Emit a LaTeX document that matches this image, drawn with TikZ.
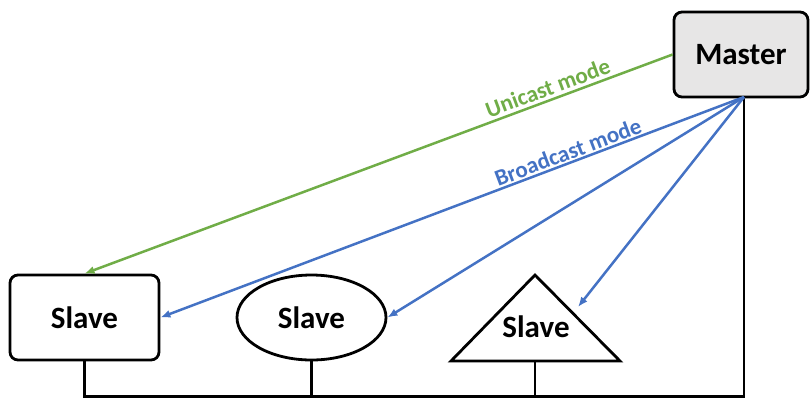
\documentclass[tikz,border=0pt]{standalone}
\usepackage{fontspec}
\setmainfont{Carlito}
\usetikzlibrary{shapes.geometric,arrows.meta,calc}
\definecolor{ugreen}{HTML}{70AD47}
\definecolor{bblue}{HTML}{4472C4}
\definecolor{mgray}{HTML}{E7E6E6}
\begin{document}
\begin{tikzpicture}[x=1pt,y=-1pt,
  boxfont/.style={font=\fontsize{31}{36}\selectfont\bfseries},
  rbox/.style={draw=black,line width=2.8pt,rounded corners=8pt,inner sep=0pt,boxfont},
  ell/.style={draw=black,line width=2.8pt,ellipse,inner sep=0pt,minimum width=149pt,minimum height=85pt,boxfont},
  wire/.style={draw=black,line width=2.8pt},
  uarrow/.style={draw=ugreen,line width=2.5pt,-{Latex[length=10pt,width=8pt]}},
  barrow/.style={draw=bblue,line width=2.5pt,-{Latex[length=10pt,width=8pt]}},
  lbl/.style={font=\fontsize{23}{27}\selectfont\bfseries,sloped,above,inner sep=3pt}]
\useasboundingbox (0,0) rectangle (810,397);
% nodes
\node[rbox,fill=mgray,minimum width=134pt,minimum height=85pt] (master) at (741,54.5) {Master};
\node[rbox,minimum width=149pt,minimum height=85pt] (s1) at (84.5,317.5) {Slave};
\node[ell] (s2) at (311.5,317.5) {Slave};
\draw[wire,line join=miter] (535,275) -- (620,361) -- (451,361) -- cycle;
\node[boxfont,inner sep=0pt] (s3) at (536,327) {Slave};
\coordinate (s3base) at (535,361);
\coordinate (s3e) at (578,307);
\coordinate (mb) at (744,97);
\coordinate (b) at (744,396.5);
% bus
\draw[wire] (mb) -- (b) -- (s1.south |- b) -- (s1.south);
\draw[wire] (s2.south) -- (s2.south |- b);
\draw[wire] (s3base) -- (s3base |- b);
% arrows
\draw[uarrow] (master.west) -- node[lbl,text=ugreen,pos=0.205] {Unicast mode} (s1.north);
\draw[barrow] (mb) -- node[lbl,text=bblue,pos=0.295,inner sep=1.5pt] {Broadcast mode} (s1.east);
\draw[barrow] (mb) -- (s2.east);
\draw[barrow] (mb) -- (s3e);
\end{tikzpicture}
\end{document}
